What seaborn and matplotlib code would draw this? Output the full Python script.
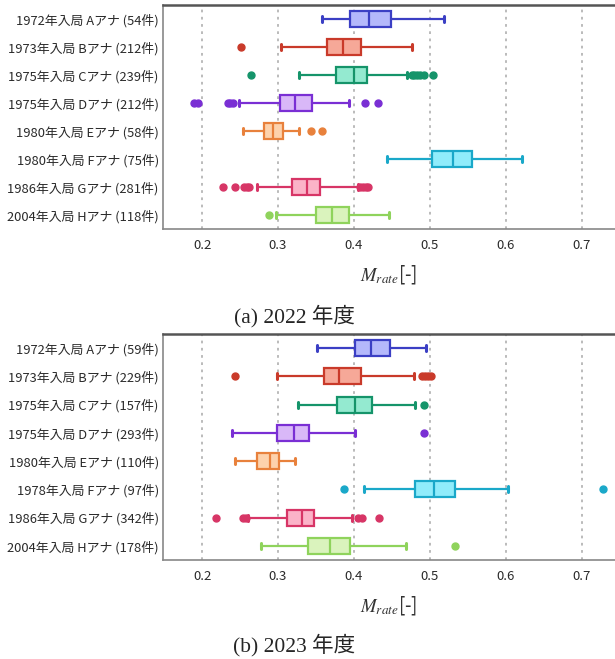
import matplotlib
matplotlib.use("Agg")
import matplotlib.pyplot as plt
import seaborn as sns

sns.set_style("white")
plt.rcParams['font.family'] = ['Noto Sans CJK JP', 'DejaVu Sans']
plt.rcParams['mathtext.fontset'] = 'stix'

# box colours (edge, fill) per announcer A..H
edge_colors = ["#3b3fc4", "#c93a2a", "#15946a", "#7a2fd4", "#e8813c", "#1aa8c9", "#d73566", "#8fd35c"]
fill_colors = ["#b4b8fb", "#f6a898", "#94ead0", "#d9b8f8", "#fdd2ac", "#90ecfb", "#fbb3c8", "#daf3bd"]

# ---- 2022 ----
labels_2022 = ["1972年入局 Aアナ (54件)", "1973年入局 Bアナ (212件)", "1975年入局 Cアナ (239件)",
               "1975年入局 Dアナ (212件)", "1980年入局 Eアナ (58件)", "1980年入局 Fアナ (75件)",
               "1986年入局 Gアナ (281件)", "2004年入局 Hアナ (118件)"]
wlo_2022 = [0.358, 0.304, 0.328, 0.249, 0.254, 0.443, 0.272, 0.297]
q1_2022 = [0.395, 0.364, 0.377, 0.303, 0.282, 0.503, 0.319, 0.350]
med_2022 = [0.420, 0.386, 0.400, 0.323, 0.293, 0.530, 0.338, 0.371]
q3_2022 = [0.449, 0.410, 0.417, 0.345, 0.307, 0.555, 0.355, 0.394]
whi_2022 = [0.519, 0.477, 0.470, 0.394, 0.328, 0.622, 0.406, 0.446]
fliers_2022 = [[],
               [0.251],
               [0.265, 0.476, 0.479, 0.483, 0.487, 0.492, 0.504],
               [0.190, 0.195, 0.234, 0.237, 0.241, 0.414, 0.432],
               [0.343, 0.358],
               [],
               [0.227, 0.243, 0.255, 0.259, 0.262, 0.408, 0.412, 0.416, 0.419],
               [0.288]]

# ---- 2023 ----
labels_2023 = ["1972年入局 Aアナ (59件)", "1973年入局 Bアナ (229件)", "1975年入局 Cアナ (157件)",
               "1975年入局 Dアナ (293件)", "1980年入局 Eアナ (110件)", "1978年入局 Fアナ (97件)",
               "1986年入局 Gアナ (342件)", "2004年入局 Hアナ (178件)"]
wlo_2023 = [0.351, 0.299, 0.326, 0.240, 0.244, 0.413, 0.260, 0.277]
q1_2023 = [0.401, 0.361, 0.378, 0.299, 0.273, 0.480, 0.312, 0.339]
med_2023 = [0.422, 0.380, 0.402, 0.321, 0.289, 0.505, 0.331, 0.368]
q3_2023 = [0.447, 0.409, 0.424, 0.341, 0.302, 0.533, 0.348, 0.395]
whi_2023 = [0.495, 0.479, 0.481, 0.401, 0.323, 0.603, 0.398, 0.469]
fliers_2023 = [[],
               [0.244, 0.490, 0.494, 0.498, 0.502],
               [0.492],
               [0.492],
               [],
               [0.387, 0.728],
               [0.218, 0.254, 0.258, 0.406, 0.411, 0.433],
               [0.533]]

xticks = [0.2, 0.3, 0.4, 0.5, 0.6, 0.7]


def draw_panel(ax, labels, wlo, q1, med, q3, whi, fliers):
    for i in range(len(labels)):
        st = [dict(whislo=wlo[i], q1=q1[i], med=med[i], q3=q3[i], whishi=whi[i], fliers=fliers[i])]
        c = edge_colors[i]
        ax.bxp(st, positions=[i], vert=False, widths=0.57, patch_artist=True, capwidths=0.22,
               boxprops=dict(facecolor=fill_colors[i], edgecolor=c, linewidth=1.6),
               medianprops=dict(color=c, linewidth=1.6),
               whiskerprops=dict(color=c, linewidth=1.6),
               capprops=dict(color=c, linewidth=2.2),
               flierprops=dict(marker="o", markerfacecolor=c, markeredgecolor=c, markersize=5))
    ax.set_ylim(7.5, -0.5)
    ax.set_yticks(range(len(labels)))
    ax.set_yticklabels(labels, fontsize=9.3, color="#2a2a2a")
    ax.tick_params(axis="y", length=0, pad=3)
    ax.set_xlim(0.1485, 0.744)
    ax.set_xticks(xticks)
    ax.set_xticklabels([f"{t:.1f}" for t in xticks], fontsize=9.5, color="#2a2a2a")
    ax.tick_params(axis="x", direction="in", length=5, width=2, color="#222222", pad=7)
    for t in xticks:
        ax.axvline(t, color="#b5b5b5", linestyle=(0, (1.5, 2.5)), linewidth=1.3, zorder=0)
    ax.spines["right"].set_visible(False)
    ax.spines["top"].set_color("#555555")
    ax.spines["top"].set_linewidth(1.8)
    ax.spines["left"].set_color("#888888")
    ax.spines["bottom"].set_color("#888888")
    ax.spines["left"].set_linewidth(1.2)
    ax.spines["bottom"].set_linewidth(1.2)
    ax.set_xlabel(r"$M_{rate}$[-]", fontsize=13.5, color="#333333", labelpad=8)


fig = plt.figure(figsize=(6.15, 6.59), dpi=100)
ax1 = fig.add_axes([0.265, 0.6525, 0.735, 0.3399])
ax2 = fig.add_axes([0.265, 0.1502, 0.735, 0.343])

draw_panel(ax1, labels_2022, wlo_2022, q1_2022, med_2022, q3_2022, whi_2022, fliers_2022)
draw_panel(ax2, labels_2023, wlo_2023, q1_2023, med_2023, q3_2023, whi_2023, fliers_2023)

cap_font = ['Liberation Serif', 'Noto Sans CJK JP']
fig.text(0.478, 1 - 316 / 659, "(a) 2022 年度", ha="center", va="center", fontsize=15.5, family=cap_font)
fig.text(0.478, 1 - 645 / 659, "(b) 2023 年度", ha="center", va="center", fontsize=15.5, family=cap_font)

fig.savefig("out.png", dpi=100)
